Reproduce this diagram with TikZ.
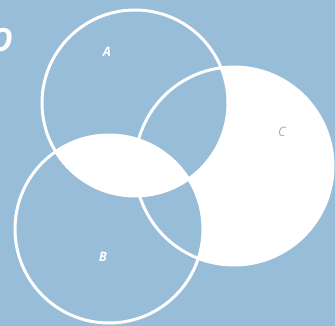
\documentclass[tikz,border=0pt]{standalone}
\usepackage{fontspec}
\setsansfont{Open Sans}
\definecolor{bgblue}{RGB}{152,189,216}
\definecolor{lblblue}{RGB}{150,178,205}
\begin{document}
\begin{tikzpicture}[x=1pt,y=-1pt,
  ring/.style={draw=white,line width=3pt},
  setlabel/.style={font=\sffamily\bfseries\itshape\fontsize{13}{13}\selectfont,text=white,inner sep=0pt}]
\fill[bgblue] (0,0) rectangle (335,326);
\coordinate (ca) at (135,103);
\coordinate (cb) at (109,229);
\coordinate (cc) at (234,166);
% C white
\fill[white] (cc) circle[radius=99];
% A cap C, B cap C blue
\begin{scope}
  \clip (cc) circle[radius=99];
  \fill[bgblue] (ca) circle[radius=93];
  \fill[bgblue] (cb) circle[radius=94];
\end{scope}
% A cap B white
\begin{scope}
  \clip (ca) circle[radius=93];
  \fill[white] (cb) circle[radius=94];
\end{scope}
\draw[ring] (ca) circle[radius=93];
\draw[ring] (cb) circle[radius=94];
\draw[ring] (cc) circle[radius=99];
\node[setlabel] (la) at (107,52) {A};
\node[setlabel] (lb) at (103,257) {B};
\node[setlabel,text=lblblue,font=\sffamily\itshape\fontsize{13}{13}\selectfont] (lc) at (282,132) {C};
\begin{scope}
  \clip (0,0) rectangle (335,326);
  \node[font=\sffamily\bfseries\itshape\fontsize{32}{32}\selectfont,text=white,inner sep=0pt,anchor=east] (lu) at (13,40) {O};
\end{scope}
\useasboundingbox (0,0) rectangle (335,326);
\end{tikzpicture}
\end{document}
